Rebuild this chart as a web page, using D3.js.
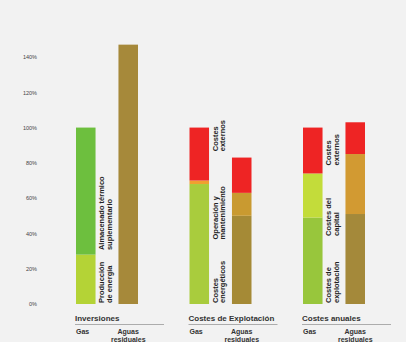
<!DOCTYPE html>
<html>
<head>
<meta charset="utf-8">
<script src="https://cdn.jsdelivr.net/npm/d3@7"></script>
<style>
  html, body { margin: 0; padding: 0; background: #f2f2f2; }
  svg { display: block; font-family: "Liberation Sans", Arial, sans-serif; }
</style>
</head>
<body>
<div id="chart"></div>
<script>
// categories
const groups = ["Inversiones", "Costes de Explotación", "Costes anuales"];
const series = ["Gas", "Aguas"];
const seriesSub = ["", "residuales"];

// stacked segment values (% of gas total), bottom to top
const gasValues = [[28, 72], [68, 2, 30], [49, 25, 26]];
const aguasValues = [[147], [50, 13, 20], [51, 34, 18]];

// labels written between the two bars, and where they start (%)
const segLabels = [
    [["Producción", "de energía"], ["Almacenado térmico", "suplementario"]],
    [["Costes", "energéticos"], ["Operación y", "mantenimiento"], ["Costes", "externos"]],
    [["Costes de", "explotación"], ["Costes del", "capital"], ["Costes", "externos"]]
];
const segLabelStart = [[0, 30], [0, 36, 86], [0, 38, 78]];

const yTicks = [0, 20, 40, 60, 80, 100, 120, 140];

// colours per segment
const gasColors = [["#b4d336", "#6dbf3e"], ["#a9cc3d", "#f0a030", "#ee2424"], ["#98c63c", "#c3dc3a", "#ee2424"]];
const aguasColors = [["#a6893a"], ["#a58a36", "#c99a30", "#ee2424"], ["#a4893a", "#d29a32", "#ee2424"]];

function init() {
    const w = 406, h = 342;

    const svg = d3.select("#chart").append("svg")
        .attr("width", w)
        .attr("height", h);

    const y = d3.scaleLinear().domain([0, 140]).range([304, 57]);

    const x0 = d3.scaleBand().domain(groups).range([76, 416.5]);
    const x1 = d3.scaleBand().domain(series).range([0, 62]).paddingInner(0.54);

    // y axis (labels only)
    const yAxis = d3.axisLeft(y)
        .tickValues(yTicks)
        .tickSize(0)
        .tickPadding(0)
        .tickFormat(d => d + "%");
    const ga = svg.append("g")
        .attr("transform", "translate(37,0)")
        .call(yAxis);
    ga.select(".domain").remove();
    ga.selectAll("text")
        .attr("font-size", "5.5px")
        .attr("font-family", "Liberation Sans, Arial, sans-serif")
        .attr("fill", "#444");

    groups.forEach((g, gi) => {
        const gx = x0(g);
        const bars = [
            { s: series[0], vals: gasValues[gi], cols: gasColors[gi] },
            { s: series[1], vals: aguasValues[gi], cols: aguasColors[gi] }
        ];

        bars.forEach(b => {
            let acc = 0;
            const segs = b.vals.map((v, i) => {
                const seg = { y0: acc, y1: acc + v, c: b.cols[i] };
                acc += v;
                return seg;
            });
            svg.selectAll(null)
                .data(segs)
                .enter()
                .append("rect")
                .attr("x", gx + x1(b.s))
                .attr("width", x1.bandwidth())
                .attr("y", d => y(d.y1))
                .attr("height", d => y(d.y0) - y(d.y1))
                .attr("fill", d => d.c);
        });

        // rotated labels between the bars
        const lx = gx + x1(series[0]) + x1.bandwidth() + 8.5;
        segLabels[gi].forEach((lines, li) => {
            const t = svg.append("text")
                .attr("transform", `translate(${lx},${y(segLabelStart[gi][li]) - 1}) rotate(-90)`)
                .attr("font-size", "7.5px")
                .attr("font-weight", "bold")
                .attr("fill", "#222");
            lines.forEach((ln, k) => {
                t.append("tspan")
                    .attr("x", 0)
                    .attr("dy", k === 0 ? 0 : 7.5)
                    .text(ln);
            });
        });

        // group title and underline
        svg.append("text")
            .attr("x", gx - 1)
            .attr("y", 321)
            .attr("font-size", "8px")
            .attr("font-weight", "bold")
            .attr("fill", "#333")
            .text(g);
        svg.append("line")
            .attr("x1", gx - 1)
            .attr("x2", gx + 88)
            .attr("y1", 324.5)
            .attr("y2", 324.5)
            .attr("stroke", "#999")
            .attr("stroke-width", 0.8);

        // series labels: gas flush with its bar, aguas centred
        series.forEach((s, si) => {
            const bx = gx + x1(s);
            const cx = si === 0 ? bx : bx + x1.bandwidth() / 2;
            const anchor = si === 0 ? "start" : "middle";
            svg.append("text")
                .attr("x", cx)
                .attr("y", 334)
                .attr("text-anchor", anchor)
                .attr("font-size", "7px")
                .attr("font-weight", "bold")
                .attr("fill", "#333")
                .text(s);
            if (seriesSub[si]) {
                svg.append("text")
                    .attr("x", cx)
                    .attr("y", 342)
                    .attr("text-anchor", anchor)
                    .attr("font-size", "7px")
                    .attr("font-weight", "bold")
                    .attr("fill", "#333")
                    .text(seriesSub[si]);
            }
        });
    });
}

window.onload = init;
</script>
</body>
</html>
